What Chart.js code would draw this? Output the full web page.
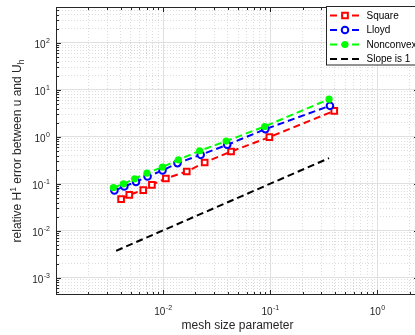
<!DOCTYPE html>
<html>
<head>
<meta charset="utf-8">
<script src="https://cdn.jsdelivr.net/npm/chart.js@4"></script>
<style>
  html, body { margin: 0; padding: 0; background: #fff; overflow: hidden; }
  #wrap { width: 425px; height: 335px; }
</style>
</head>
<body>
<div id="wrap"><canvas id="errChart" width="425" height="335"></canvas></div>
<script>
// mesh sizes and relative H1 errors
const hSquare = [0.00405, 0.00483, 0.00652, 0.00785, 0.0106, 0.0166, 0.0244, 0.0430, 0.098, 0.395];
const errSquare = [0.0472, 0.0583, 0.0734, 0.0953, 0.130, 0.183, 0.284, 0.487, 0.986, 3.57];
const hLloyd = [0.00351, 0.00434, 0.00558, 0.00715, 0.00986, 0.0136, 0.0224, 0.0396, 0.0899, 0.360];
const errLloyd = [0.072, 0.0877, 0.110, 0.143, 0.192, 0.276, 0.414, 0.676, 1.46, 4.57];
const hNonconvex = [0.00343, 0.00426, 0.00542, 0.00706, 0.00985, 0.01387, 0.0219, 0.0387, 0.0885, 0.353];
const errNonconvex = [0.0834, 0.100, 0.128, 0.169, 0.227, 0.324, 0.504, 0.811, 1.66, 6.34];
const hSlope = [0.00364, 0.353];
const errSlope = [0.00375, 0.352];

// labelled decades on each axis
const xDecades = [-2, -1, 0];
const yDecades = [-3, -2, -1, 0, 1, 2];

const xMin = 1e-3, xMax = 2.44;
const yMin = 4.3e-4, yMax = 580;

const FONT = "'Liberation Sans', Arial, Helvetica, sans-serif";
const TXT = '#262626';

function pts(xs, ys) {
  return xs.map((x, i) => ({ x: x, y: ys[i] }));
}

// 1..9 x 10^k ticks so every minor grid line is there
function logTicks(scale) {
  const out = [];
  const k0 = Math.floor(Math.log10(scale.min));
  const k1 = Math.ceil(Math.log10(scale.max));
  for (let k = k0; k <= k1; k++) {
    for (let m = 1; m <= 9; m++) {
      const v = m * Math.pow(10, k);
      if (v >= scale.min * 0.9999 && v <= scale.max * 1.0001) out.push({ value: v, major: m === 1 });
    }
  }
  scale.ticks = out;
}

// draws "10" with a raised exponent
function drawPow(ctx, exp, x, y, align) {
  ctx.font = '10px ' + FONT;
  const wb = ctx.measureText('10').width;
  ctx.font = '7px ' + FONT;
  const e = String(exp);
  const we = ctx.measureText(e).width;
  let x0 = x;
  if (align === 'center') x0 = x - (wb + we + 0.5) / 2;
  if (align === 'right') x0 = x - (wb + we + 0.5);
  ctx.fillStyle = TXT;
  ctx.textAlign = 'left';
  ctx.textBaseline = 'alphabetic';
  ctx.font = '10px ' + FONT;
  ctx.fillText('10', x0, y);
  ctx.font = '7px ' + FONT;
  ctx.fillText(e, x0 + wb + 0.5, y - 5);
}

const axesPlugin = {
  id: 'axesPlugin',
  afterDatasetsDraw(chart) {
    const ctx = chart.ctx;
    const a = chart.chartArea;
    const xs = chart.scales.x, ys = chart.scales.y;
    ctx.save();
    ctx.strokeStyle = '#262626';
    ctx.lineWidth = 1;
    // tick marks inside the box
    ctx.beginPath();
    xs.ticks.forEach(t => {
      const px = Math.round(xs.getPixelForValue(t.value)) + 0.5;
      const len = t.major ? 5 : 3;
      ctx.moveTo(px, a.bottom); ctx.lineTo(px, a.bottom - len);
      ctx.moveTo(px, a.top); ctx.lineTo(px, a.top + len);
    });
    ys.ticks.forEach(t => {
      const py = Math.round(ys.getPixelForValue(t.value)) + 0.5;
      const len = t.major ? 5 : 3;
      ctx.moveTo(a.left, py); ctx.lineTo(a.left + len, py);
      ctx.moveTo(a.right, py); ctx.lineTo(a.right - len, py);
    });
    ctx.stroke();
    ctx.strokeRect(a.left + 0.5, a.top + 0.5, a.right - a.left - 1, a.bottom - a.top - 1);

    // tick labels
    xDecades.forEach(k => drawPow(ctx, k, xs.getPixelForValue(Math.pow(10, k)), a.bottom + 20, 'center'));
    yDecades.forEach(k => drawPow(ctx, k, a.left - 6, ys.getPixelForValue(Math.pow(10, k)) + 5.5, 'right'));

    // axis titles
    ctx.fillStyle = TXT;
    ctx.font = '12px ' + FONT;
    ctx.textAlign = 'center';
    ctx.textBaseline = 'alphabetic';
    ctx.fillText('mesh size parameter', (a.left + a.right) / 2, 329);

    ctx.translate(21, (a.top + a.bottom) / 2);
    ctx.rotate(-Math.PI / 2);
    const parts = [
      ['relative H', 12, 0], ['1', 8.5, -5], [' error between u and U', 12, 0], ['h', 8.5, 3]
    ];
    let total = 0;
    parts.forEach(p => { ctx.font = p[1] + 'px ' + FONT; total += ctx.measureText(p[0]).width; });
    let cx = -total / 2;
    ctx.textAlign = 'left';
    parts.forEach(p => {
      ctx.font = p[1] + 'px ' + FONT;
      ctx.fillText(p[0], cx, p[2]);
      cx += ctx.measureText(p[0]).width;
    });
    ctx.restore();
  },
  afterDraw(chart) {
    // boxed legend in the upper right corner
    const ctx = chart.ctx;
    const a = chart.chartArea;
    ctx.save();
    const bx = 326, by = 6.5, bw = a.right - 1 - bx, bh = 58.5;
    ctx.fillStyle = '#fff';
    ctx.fillRect(bx, by, bw, bh);
    ctx.strokeStyle = '#262626';
    ctx.lineWidth = 1;
    ctx.strokeRect(bx + 0.5, by, bw, bh);
    chart.data.datasets.forEach((ds, i) => {
      const y = 15.5 + i * 14.5;
      ctx.strokeStyle = ds.borderColor;
      ctx.lineWidth = 2;
      ctx.setLineDash(ds.borderDash);
      ctx.beginPath();
      ctx.moveTo(330, y); ctx.lineTo(363, y);
      ctx.stroke();
      ctx.setLineDash([]);
      if (ds.pointRadius > 0) {
        ctx.fillStyle = ds.pointBackgroundColor;
        ctx.strokeStyle = ds.pointBorderColor;
        ctx.lineWidth = ds.pointBorderWidth;
        ctx.beginPath();
        if (ds.pointStyle === 'rect') {
          const s = ds.pointRadius * Math.SQRT1_2;
          ctx.rect(345 - s, y - s, 2 * s, 2 * s);
        } else {
          ctx.arc(345, y, ds.pointRadius, 0, Math.PI * 2);
        }
        ctx.fill();
        if (ds.pointBorderWidth > 0) ctx.stroke();
      }
      ctx.fillStyle = '#000';
      ctx.font = '10px ' + FONT;
      ctx.textAlign = 'left';
      ctx.textBaseline = 'middle';
      ctx.fillText(ds.label, 366.5, y + 0.5);
    });
    ctx.restore();
  }
};

const gridColor = c => (c.tick && c.tick.major ? '#e0e0e0' : '#dcdcdc');
const gridDash = c => (c.tick && c.tick.major ? [] : [1, 2]);

new Chart(document.getElementById('errChart'), {
  type: 'line',
  data: {
    datasets: [
      {
        label: 'Square', data: pts(hSquare, errSquare),
        borderColor: '#ff0000', borderWidth: 2, borderDash: [7, 4],
        pointStyle: 'rect', pointRadius: 4, pointBorderWidth: 2,
        pointBackgroundColor: '#ffffff', pointBorderColor: '#ff0000', order: 3
      },
      {
        label: 'Lloyd', data: pts(hLloyd, errLloyd),
        borderColor: '#0000ff', borderWidth: 2, borderDash: [7, 4],
        pointStyle: 'circle', pointRadius: 3.3, pointBorderWidth: 2,
        pointBackgroundColor: '#ffffff', pointBorderColor: '#0000ff', order: 2
      },
      {
        label: 'Nonconvex', data: pts(hNonconvex, errNonconvex),
        borderColor: '#00ff00', borderWidth: 2, borderDash: [7, 4],
        pointStyle: 'circle', pointRadius: 3.6, pointBorderWidth: 0,
        pointBackgroundColor: '#00ff00', pointBorderColor: '#00ff00', order: 1
      },
      {
        label: 'Slope is 1', data: pts(hSlope, errSlope),
        borderColor: '#000000', borderWidth: 2, borderDash: [7, 4],
        pointRadius: 0, pointBorderWidth: 0,
        pointBackgroundColor: '#000000', pointBorderColor: '#000000', order: 0
      }
    ]
  },
  options: {
    responsive: false,
    animation: false,
    layout: { padding: { top: 7, right: 4, left: 0, bottom: 0 } },
    plugins: { legend: { display: false }, tooltip: { enabled: false } },
    scales: {
      x: {
        type: 'logarithmic', min: xMin, max: xMax,
        afterBuildTicks: logTicks,
        afterFit: s => { s.height = 40; },
        ticks: { display: false },
        grid: { color: gridColor, lineWidth: 1, drawTicks: false },
        border: { display: false, dash: gridDash }
      },
      y: {
        type: 'logarithmic', min: yMin, max: yMax,
        afterBuildTicks: logTicks,
        afterFit: s => { s.width = 56; },
        ticks: { display: false },
        grid: { color: gridColor, lineWidth: 1, drawTicks: false },
        border: { display: false, dash: gridDash }
      }
    }
  },
  plugins: [axesPlugin]
});
</script>
</body>
</html>
